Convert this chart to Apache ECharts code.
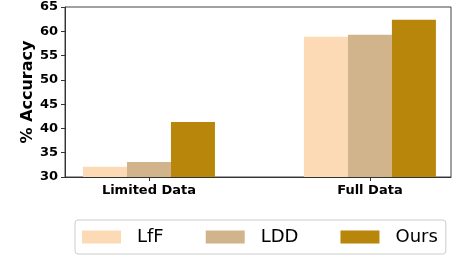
<!DOCTYPE html>
<html>
<head>
<meta charset="utf-8">
<script src="https://cdn.jsdelivr.net/npm/echarts@6/dist/echarts.min.js"></script>
<style>
  html, body { margin: 0; padding: 0; background: #fff; }
  #chart { width: 453px; height: 256px; }
</style>
</head>
<body>
<div id="chart"></div>
<script>
// Data
const categories = ['Limited Data', 'Full Data'];
const seriesNames = ['LfF', 'LDD', 'Ours'];
const lffValues = [32.1, 58.9];
const lddValues = [33.1, 59.3];
const oursValues = [41.3, 62.4];
const yTicks = [30, 35, 40, 45, 50, 55, 60, 65];

const colors = ['#FDDAB6', '#D2B48C', '#B8860B'];

function toPoints(values) {
    return values.map((v, i) => [i, v]);
}

let chart = echarts.init(document.getElementById('chart'));

let option = {
    animation: false,
    textStyle: { fontFamily: 'DejaVu Sans' },
    grid: {
        left: 65, right: 2, top: 7, bottom: 79,
        show: true, borderColor: '#444', borderWidth: 1
    },
    legend: {
        data: seriesNames,
        left: 75, top: 220,
        itemWidth: 39, itemHeight: 13, itemGap: 42,
        padding: [8, 8, 8, 7],
        borderColor: '#ccc', borderWidth: 1, borderRadius: 3,
        icon: 'rect',
        textStyle: { fontSize: 18, color: '#000', fontFamily: 'DejaVu Sans', padding: [0, 0, 0, 11] }
    },
    xAxis: {
        type: 'value',
        min: -0.38, max: 1.367,
        splitLine: { show: false },
        axisLine: { show: true, onZero: false, lineStyle: { color: '#333' } },
        axisTick: { show: true, customValues: [0, 1], length: 4, lineStyle: { color: '#333' } },
        axisLabel: {
            customValues: [0, 1],
            formatter: v => categories[Math.round(v)],
            fontWeight: 'bold', fontSize: 13, color: '#000', margin: 7
        }
    },
    yAxis: {
        type: 'value',
        min: yTicks[0], max: yTicks[yTicks.length - 1], interval: 5,
        name: '% Accuracy',
        nameLocation: 'middle', nameGap: 29, nameMoveOverlap: false,
        nameTextStyle: { fontSize: 16, fontWeight: 'bold', color: '#000' },
        splitLine: { show: false },
        axisLine: { show: true, onZero: false, lineStyle: { color: '#333' } },
        axisTick: { show: true, length: 4, lineStyle: { color: '#333' } },
        axisLabel: { fontWeight: 'bold', fontSize: 13, color: '#000', margin: 7 }
    },
    series: [
        { name: seriesNames[0], type: 'bar', data: toPoints(lffValues), barWidth: 44, barGap: '0%', itemStyle: { color: colors[0] } },
        { name: seriesNames[1], type: 'bar', data: toPoints(lddValues), barWidth: 44, barGap: '0%', itemStyle: { color: colors[1] } },
        { name: seriesNames[2], type: 'bar', data: toPoints(oursValues), barWidth: 44, barGap: '0%', itemStyle: { color: colors[2] } }
    ]
};

chart.setOption(option);
</script>
</body>
</html>
